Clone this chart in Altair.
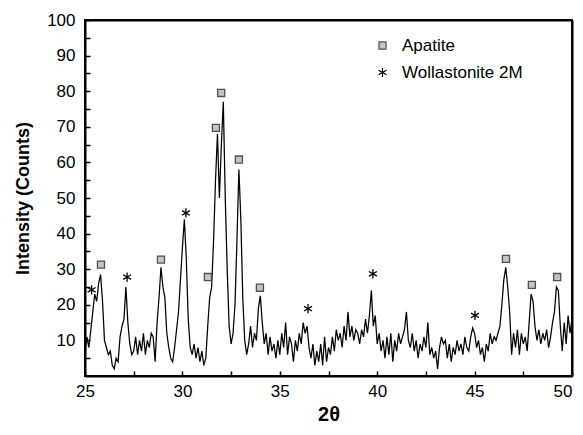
import altair as alt
import pandas as pd

# ---- data ----
START = 25.0
STEP = 0.1
intensity = [
    6, 11, 8, 13, 18, 23, 21, 26, 28.5, 21,      # 25.0-25.9
    10, 8, 6, 7, 3, 2, 5, 4, 11, 14,             # 26.0-26.9
    16, 25, 15, 9, 6, 7, 11, 6, 10, 7,           # 27.0-27.9
    12, 6, 10, 8, 12, 11, 4, 15, 22, 30.5,       # 28.0-28.9
    25, 22, 12, 8, 5, 4, 8, 13, 18, 27,          # 29.0-29.9
    36, 44, 33, 16, 8, 6, 9, 5, 8, 4,            # 30.0-30.9
    7, 3, 5, 14, 22, 25, 38, 55, 68, 50,         # 31.0-31.9
    65, 77, 50, 30, 14, 9, 12, 20, 38, 58,       # 32.0-32.9
    44, 22, 10, 6, 9, 14, 8, 12, 10, 19,         # 33.0-33.9
    22.5, 15, 9, 12, 6, 11, 7, 9, 5, 10,         # 34.0-34.9
    6, 12, 8, 15, 6, 11, 9, 4, 10, 7,            # 35.0-35.9
    12, 9, 15, 12, 14, 8, 5, 9, 3, 7,            # 36.0-36.9
    4, 9, 3, 11, 4, 8, 6, 11, 7, 13,             # 37.0-37.9
    10, 12, 8, 14, 10, 18, 11, 14, 10, 13,       # 38.0-38.9
    12, 9, 13, 11, 16, 12, 17, 24, 14, 17,       # 39.0-39.9
    9, 12, 7, 10, 5, 11, 6, 12, 4, 10,           # 40.0-40.9
    7, 12, 9, 11, 13, 18, 10, 8, 12, 7,          # 41.0-41.9
    10, 5, 9, 7, 11, 8, 15, 6, 8, 5,             # 42.0-42.9
    7, 2, 8, 11, 9, 10, 5, 9, 4, 8,              # 43.0-43.9
    6, 10, 7, 9, 6, 11, 8, 7, 11, 13.5,          # 44.0-44.9
    12, 8, 10, 6, 8, 4, 9, 7, 12, 9,             # 45.0-45.9
    11, 10, 12, 14, 20, 27, 30.5, 25, 18, 6,     # 46.0-46.9
    12, 8, 13, 6, 12, 9, 11, 7, 15, 23,          # 47.0-47.9
    21, 14, 10, 13, 9, 12, 10, 13, 8, 11,        # 48.0-48.9
    15, 18, 25, 24, 14, 7, 15, 9, 17, 12,        # 49.0-49.9
    16,                                          # 50.0
]
two_theta = [round(START + STEP * i, 2) for i in range(len(intensity))]

apatite_2theta = [25.82, 28.9, 31.31, 31.72, 31.99, 32.9, 33.98, 46.61, 47.94, 49.24]
apatite_y = [31.3, 32.7, 27.8, 69.7, 79.5, 60.8, 24.8, 32.9, 25.6, 27.8]
woll_2theta = [25.34, 27.16, 30.18, 36.45, 39.78, 45.02]
woll_y = [24.2, 27.8, 45.8, 18.9, 28.7, 17.0]

x_ticks = [25, 27.5, 30, 32.5, 35, 37.5, 40, 42.5, 45, 47.5, 50]
y_ticks = [5, 10, 15, 20, 25, 30, 35, 40, 45, 50, 55, 60, 65, 70, 75, 80, 85, 90, 95, 100]

phases = ["Apatite", "Wollastonite 2M"]
ASTERISK = "M0,-1L0,1M-0.866,-0.5L0.866,0.5M-0.866,0.5L0.866,-0.5"

df_line = pd.DataFrame({"two_theta": two_theta, "intensity": intensity})
df_marks = pd.DataFrame({
    "two_theta": apatite_2theta + woll_2theta,
    "intensity": apatite_y + woll_y,
    "phase": ["Apatite"] * len(apatite_2theta) + ["Wollastonite 2M"] * len(woll_2theta),
})

FONT = "Liberation Sans"
W, H = 487, 356
X_SCALE = alt.Scale(domain=[25, 50], nice=False, zero=False)
Y_SCALE = alt.Scale(domain=[0, 100], nice=False, zero=False)


def frame_axis(orient):
    # axis used only for its domain line: draws one side of the box
    return alt.Axis(orient=orient, domain=True, domainColor="black", domainWidth=2,
                    ticks=False, labels=False, grid=False, title=None, offset=0)


x_enc = alt.X(
    "two_theta:Q", scale=X_SCALE,
    axis=alt.Axis(
        orient="bottom", values=x_ticks, tickCount=40,
        labelExpr="datum.value % 5 == 0 ? format(datum.value, 'd') : ''",
        labelAlign=alt.ConditionalAxisLabelAlign(
            condition={"test": "datum.value >= 50", "value": "right"}, value="center"),
        title="2θ",
        offset=-5, tickSize=5, tickWidth=1.5, tickColor="black",
        domain=False, grid=False, labelPadding=7, labelFlush=False,
        labelOverlap=False, labelFont=FONT, labelFontSize=17, labelColor="black",
        titleFont=FONT, titleFontSize=20, titleFontWeight="bold", titleColor="black",
        titlePadding=5,
    ),
)
y_enc = alt.Y(
    "intensity:Q", scale=Y_SCALE,
    axis=alt.Axis(
        orient="left", values=y_ticks, tickCount=40,
        labelExpr="datum.value % 10 == 0 ? format(datum.value, 'd') : ''",
        title="Intensity (Counts)",
        offset=-5, tickSize=5, tickWidth=1.5, tickColor="black",
        domain=False, grid=False, labelPadding=10, labelFlush=False,
        labelOverlap=False, labelFont=FONT, labelFontSize=17, labelColor="black",
        titleFont=FONT, titleFontSize=18, titleFontWeight="bold", titleColor="black",
        titlePadding=14,
    ),
)

line = alt.Chart(df_line).mark_line(color="black", strokeWidth=1.25).encode(x=x_enc, y=y_enc)

box_bl = alt.Chart(df_line).mark_line(opacity=0).encode(
    x=alt.X("two_theta:Q", scale=X_SCALE, axis=frame_axis("bottom")),
    y=alt.Y("intensity:Q", scale=Y_SCALE, axis=frame_axis("left")),
)

legend = alt.Legend(
    orient="none", legendX=289, legendY=17, title=None,
    labelFont=FONT, labelFontSize=17, labelColor="black", labelOffset=11,
    symbolStrokeWidth=1.2, rowPadding=9, padding=0,
)

points = alt.Chart(df_marks).mark_point(strokeWidth=1.3, opacity=1).encode(
    x=alt.X("two_theta:Q", scale=X_SCALE, axis=frame_axis("top")),
    y=alt.Y("intensity:Q", scale=Y_SCALE, axis=frame_axis("right")),
    shape=alt.Shape("phase:N", scale=alt.Scale(domain=phases, range=["square", ASTERISK]), legend=legend),
    fill=alt.Fill("phase:N", scale=alt.Scale(domain=phases, range=["#c4c4c4", "transparent"]), legend=legend),
    stroke=alt.Stroke("phase:N", scale=alt.Scale(domain=phases, range=["#505050", "#000000"]), legend=legend),
    size=alt.Size("phase:N", scale=alt.Scale(domain=phases, range=[50, 85]), legend=legend),
)

chart = alt.layer(line, box_bl, points).resolve_axis(
    x="independent", y="independent"
).properties(
    width=W,
    height=H,
    padding={"left": 77, "top": 12, "right": 3, "bottom": 50},
    autosize=alt.AutoSizeParams(type="none"),
).configure_view(stroke="black", strokeWidth=2)

chart.save("out.html", embed_options={"renderer": "svg", "actions": False})
